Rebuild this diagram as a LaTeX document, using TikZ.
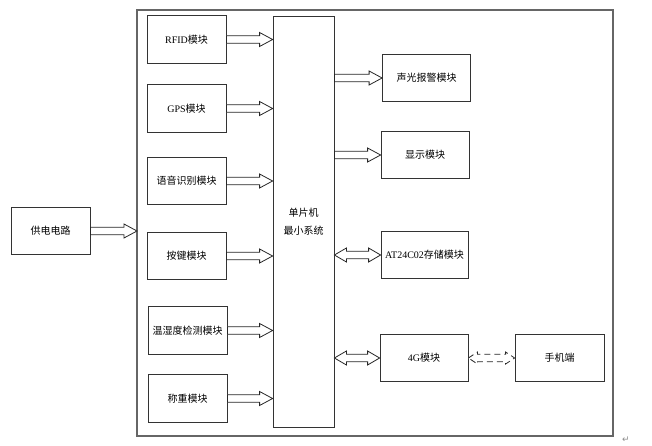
\documentclass[tikz,border=0pt]{standalone}
\usepackage{fontspec}
\setmainfont{Liberation Serif}
\newfontfamily\cjk{Noto Sans CJK SC}
\newfontfamily\symfont{DejaVu Sans}
\usetikzlibrary{calc}
\newcommand\fatarrow[2]{%
  \draw[blk] let \p1=(#1),\p2=(#2) in
    (\x1,\y1+3.8pt) -- (\x2-13pt,\y1+3.8pt) -- (\x2-13pt,\y1+7pt) -- (\x2,\y1)
    -- (\x2-13pt,\y1-7pt) -- (\x2-13pt,\y1-3.8pt) -- (\x1,\y1-3.8pt) -- cycle;}
\newcommand\dblfatarrow[2]{%
  \draw[blk] let \p1=(#1),\p2=(#2) in
    (\x1,\y1) -- (\x1+12pt,\y1+7pt) -- (\x1+12pt,\y1+3.8pt) -- (\x2-12pt,\y1+3.8pt)
    -- (\x2-12pt,\y1+7pt) -- (\x2,\y1) -- (\x2-12pt,\y1-7pt) -- (\x2-12pt,\y1-3.8pt)
    -- (\x1+12pt,\y1-3.8pt) -- (\x1+12pt,\y1-7pt) -- cycle;}
\newcommand\dashdblarrow[2]{%
  \draw[blk,dash pattern=on 6pt off 4pt] let \p1=(#1),\p2=(#2) in
    (\x1,\y1) -- (\x1+9pt,\y1+6pt) -- (\x1+9pt,\y1+3.8pt) -- (\x2-9pt,\y1+3.8pt)
    -- (\x2-9pt,\y1+6pt) -- (\x2,\y1) -- (\x2-9pt,\y1-6pt) -- (\x2-9pt,\y1-3.8pt)
    -- (\x1+9pt,\y1-3.8pt) -- (\x1+9pt,\y1-6pt) -- cycle;}
\begin{document}
\begin{tikzpicture}[x=1pt,y=-1pt,
  box/.style={draw=black!80, line width=0.8pt, rectangle, inner sep=0pt,
    minimum width=79pt, minimum height=47.5pt, align=center,
    font=\cjk\fontsize{10}{18}\selectfont},
  rbox/.style={box, minimum width=88pt},
  blk/.style={draw=black!85, line width=0.8pt, fill=white},
  frame/.style={draw=black!60, line width=1.2pt}]
\useasboundingbox (0,0) rectangle (652,446);
\draw[frame] (137,10) rectangle (613,436);

\node[box] (supply) at (50.5,231) {供电电路};
\node[box] (rfid) at (186.5,39.5) {{\rmfamily RFID}模块};
\node[box] (gps) at (186.5,108.5) {{\rmfamily GPS}模块};
\node[box] (voice) at (186.5,181) {语音识别模块};
\node[box] (key) at (186.5,256) {按键模块};
\node[box] (temp) at (187.5,330.5) {温湿度检测模块};
\node[box] (weight) at (187.5,398.5) {称重模块};
\node[box, minimum width=61pt, minimum height=411pt] (mcu) at (303.5,221.5) {单片机\\最小系统};

\node[rbox] (alarm) at (426.5,78) {声光报警模块};
\node[rbox] (display) at (425,155) {显示模块};
\node[rbox, minimum width=87pt] (at24) at (424.5,255) {{\rmfamily AT24C02}存储模块};
\node[rbox] (g4) at (424,358) {{\rmfamily 4G}模块};
\node[rbox, minimum width=89pt] (phone) at (559.5,358) {手机端};

\coordinate (frameW) at (137,231);
\fatarrow{supply.east}{frameW}
\foreach \b in {rfid,gps,voice,key,temp,weight}{\fatarrow{\b.east}{mcu.west |- \b.east}}
\foreach \b in {alarm,display}{\fatarrow{mcu.east |- \b.west}{\b.west}}
\foreach \b in {at24,g4}{\dblfatarrow{mcu.east |- \b.west}{\b.west}}
\dashdblarrow{g4.east}{phone.west}

\node[font=\symfont\fontsize{9}{9}\selectfont, text=black!45] (pmark) at (626,440) {↵};
\end{tikzpicture}
\end{document}
